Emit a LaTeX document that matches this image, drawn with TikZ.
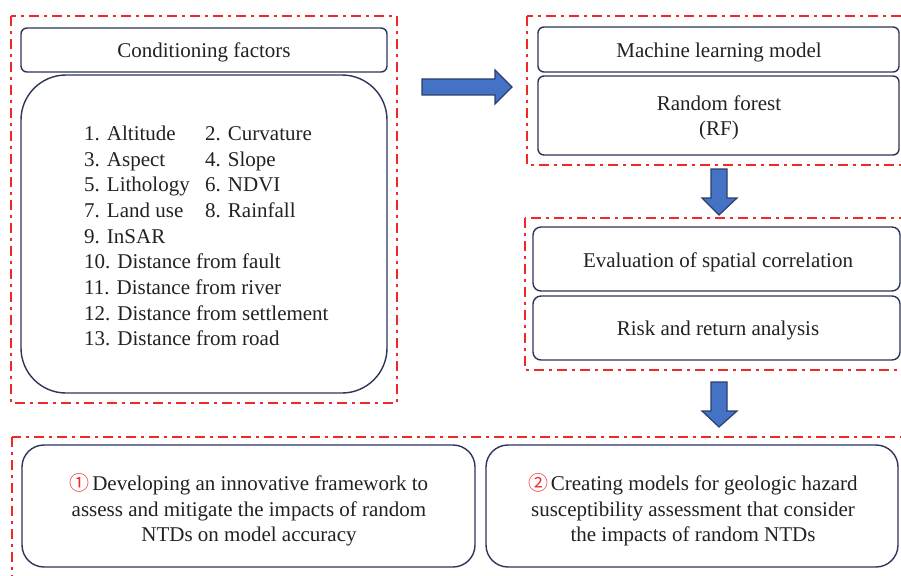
\documentclass[tikz,border=0pt]{standalone}
\usepackage{fontspec}
\setmainfont{Liberation Serif}
\newfontfamily\circfont{Noto Sans CJK SC}
\definecolor{boxline}{HTML}{2E3558}
\definecolor{groupred}{HTML}{F02828}
\definecolor{arrowfill}{HTML}{4472C4}
\definecolor{arrowline}{HTML}{2C3E6E}
\definecolor{txt}{HTML}{222222}
\tikzset{
  groupframe/.style={draw=groupred, line width=2pt,
    dash pattern=on 10pt off 5pt on 3pt off 5pt},
  roundbox/.style={draw=boxline, line width=1.4pt, rounded corners=6pt, inner sep=0pt},
  bigbox/.style={roundbox, rounded corners=22pt},
  boxtext/.style={text=txt, font=\fontsize{21}{25.6}\selectfont, align=center, inner sep=0pt},
  blockarrow/.style={fill=arrowfill, draw=arrowline, line width=1.2pt, line join=miter},
  listtext/.style={text=txt, font=\fontsize{21}{25.7}\selectfont, inner sep=0pt}
}
\newcommand{\circnum}[1]{{\color{groupred}\circfont\fontsize{20}{25.6}\selectfont #1}\hspace{2.5pt}}
\begin{document}
\begin{tikzpicture}[x=1pt,y=-1pt]
\clip (0,0) rectangle (901,575);
\fill[white] (0,0) rectangle (901,575);

% group frames
\draw[groupframe] (11,16) rectangle (397,403);
\draw[groupframe] (527,16) rectangle (910,165);
\draw[groupframe] (525,218) rectangle (910,370);
\draw[groupframe] (12,437) rectangle (910,590);

% conditioning factors
\node[roundbox, minimum width=366pt, minimum height=44pt] (cond) at (204,50) {};
\node[boxtext] (condtext) at (204,52.5) {Conditioning factors};
\node[roundbox, rounded corners=45pt, minimum width=366pt, minimum height=318pt] (factors) at (204,234) {};
\node[listtext, anchor=west] (list) at (84,238) {%
  \begin{tabular}{@{}p{121pt}@{}l@{}}
  1. Altitude & 2. Curvature\\
  3. Aspect & 4. Slope\\
  5. Lithology & 6. NDVI\\
  7. Land use & 8. Rainfall\\
  \multicolumn{2}{@{}l@{}}{9. InSAR}\\
  \multicolumn{2}{@{}l@{}}{10. Distance from fault}\\
  \multicolumn{2}{@{}l@{}}{11. Distance from river}\\
  \multicolumn{2}{@{}l@{}}{12. Distance from settlement}\\
  \multicolumn{2}{@{}l@{}}{13. Distance from road}
  \end{tabular}};

% machine learning model
\node[roundbox, minimum width=361pt, minimum height=45pt] (ml) at (718.5,49.5) {};
\node[boxtext] (mltext) at (719,52.5) {Machine learning model};
\node[roundbox, minimum width=361pt, minimum height=79pt] (rf) at (718.5,115.5) {};
\node[boxtext] (rftext) at (719,118) {Random forest\\(RF)};

% evaluation
\node[roundbox, rounded corners=8pt, minimum width=367pt, minimum height=64pt] (eval) at (716.5,259) {};
\node[boxtext] (evaltext) at (718,262) {Evaluation of spatial correlation};
\node[roundbox, rounded corners=8pt, minimum width=367pt, minimum height=64pt] (risk) at (716.5,328) {};
\node[boxtext] (risktext) at (718,330.5) {Risk and return analysis};

% outcomes
\node[bigbox, minimum width=453pt, minimum height=122pt] (out1) at (248.5,506) {};
\node[boxtext] (out1text) at (249,510)
  {\circnum{①}Developing an innovative framework to\\assess and mitigate the impacts of random\\NTDs on model accuracy};
\node[bigbox, minimum width=412pt, minimum height=122pt] (out2) at (692,506) {};
\node[boxtext] (out2text) at (693,510)
  {\circnum{②}Creating models for geologic hazard\\susceptibility assessment that consider\\the impacts of random NTDs};

% block arrows between stages
\draw[blockarrow] (422,79) -- (495,79) -- (495,70) -- (512,87) -- (495,104) -- (495,95) -- (422,95) -- cycle;
\draw[blockarrow] (711,169) -- (727,169) -- (727,198) -- (737,198) -- (719,215) -- (702,198) -- (711,198) -- cycle;
\draw[blockarrow] (711,382) -- (727,382) -- (727,411) -- (737,411) -- (719,427) -- (702,411) -- (711,411) -- cycle;
\end{tikzpicture}
\end{document}
